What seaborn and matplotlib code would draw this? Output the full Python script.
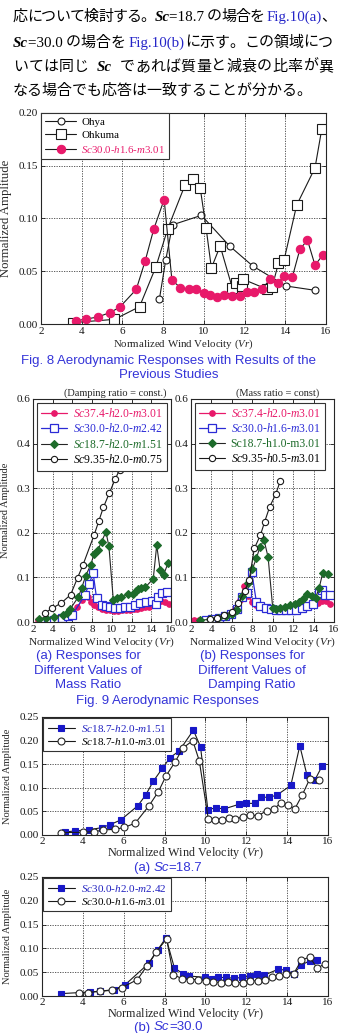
import matplotlib
matplotlib.use("Agg")
import matplotlib.pyplot as plt
import seaborn as sns

# ---------------- Fig. 8 ----------------
f8_ohya_x = [7.82, 8.13, 8.46, 9.88, 11.26, 12.40, 14.04, 15.44]
f8_ohya_y = [0.024, 0.061, 0.094, 0.103, 0.074, 0.055, 0.036, 0.032]
f8_ohkuma_x = [3.57, 5.61, 6.84, 7.64, 8.23, 9.07, 9.49, 9.82, 10.11, 10.37, 10.80,
               11.40, 11.60, 11.86, 11.94, 13.10, 13.36, 13.66, 13.94, 14.56, 15.46, 15.79]
f8_ohkuma_y = [0.0013, 0.0044, 0.0164, 0.054, 0.0905, 0.1315, 0.137, 0.129, 0.091, 0.053,
               0.074, 0.034, 0.0385, 0.036, 0.0423, 0.033, 0.0353, 0.0575, 0.0606, 0.1127,
               0.148, 0.1845]
f8_sc30_x = [3.73, 4.22, 4.78, 5.37, 5.86, 6.68, 7.12, 7.54, 8.05, 8.43, 8.85, 9.28, 9.59,
             10.00, 10.31, 10.67, 11.00, 11.40, 11.78, 12.11, 12.47, 12.84, 13.25, 13.63,
             13.96, 14.35, 14.72, 15.09, 15.46, 15.84]
f8_sc30_y = [0.003, 0.0047, 0.0066, 0.0107, 0.0158, 0.0328, 0.060, 0.090, 0.118, 0.0416,
             0.0344, 0.0328, 0.0331, 0.0297, 0.0274, 0.0259, 0.0274, 0.0265, 0.0268, 0.030,
             0.0306, 0.0328, 0.0423, 0.039, 0.0454, 0.0448, 0.071, 0.0795, 0.0558, 0.0653]

# ---------------- Fig. 9 (a) damping ratio const ----------------
f9a_sc37_x = [2.5, 3.0, 3.5, 4.0, 4.5, 5.0, 5.5, 6.0, 6.5, 7.0, 7.3, 7.6, 7.9, 8.2, 8.6, 9.0,
              9.4, 9.8, 10.2, 10.6, 11.0, 11.4, 11.8, 12.2, 12.6, 13.0, 13.4, 13.8, 14.2,
              14.6, 15.0, 15.4, 15.8]
f9a_sc37_y = [0.004, 0.004, 0.005, 0.006, 0.008, 0.011, 0.015, 0.020, 0.033, 0.050, 0.060,
              0.055, 0.045, 0.038, 0.033, 0.030, 0.028, 0.027, 0.025, 0.025, 0.026, 0.027,
              0.028, 0.029, 0.030, 0.031, 0.033, 0.034, 0.037, 0.045, 0.048, 0.045, 0.040]
f9a_sc30_x = [2.9, 3.5, 4.1, 4.9, 5.5, 6.0, 7.25, 7.7, 8.1, 8.45, 8.95, 9.4, 9.85, 10.3,
              10.8, 11.3, 11.8, 12.3, 12.9, 13.5, 14.05, 14.45, 14.7, 15.1, 15.6]
f9a_sc30_y = [0.001, 0.003, 0.005, 0.009, 0.013, 0.016, 0.060, 0.085, 0.110, 0.053, 0.038,
              0.035, 0.033, 0.031, 0.032, 0.033, 0.033, 0.037, 0.042, 0.045, 0.048, 0.040,
              0.056, 0.066, 0.067]
f9a_sc18_x = [2.6, 3.3, 4.1, 5.0, 5.4, 5.8, 6.6, 6.95, 7.35, 7.85, 8.2, 8.6, 8.95, 9.4, 9.7,
              10.15, 10.5, 10.95, 11.6, 12.1, 12.5, 12.7, 13.0, 13.4, 14.2, 14.55, 14.9,
              15.25, 15.7]
f9a_sc18_y = [0.006, 0.008, 0.011, 0.016, 0.020, 0.030, 0.056, 0.077, 0.104, 0.128, 0.153,
              0.162, 0.180, 0.202, 0.170, 0.049, 0.053, 0.055, 0.062, 0.063, 0.069, 0.074,
              0.076, 0.078, 0.097, 0.172, 0.116, 0.106, 0.132]
f9a_sc9_x = [3.26, 3.97, 4.89, 5.81, 6.52, 7.07, 8.2, 8.67, 9.14, 9.76, 10.33, 10.78]
f9a_sc9_y = [0.021, 0.031, 0.043, 0.061, 0.099, 0.128, 0.195, 0.226, 0.257, 0.290, 0.320, 0.341]

# ---------------- Fig. 9 (b) mass ratio const ----------------
f9b_sc37_x = [2.3, 2.8, 3.3, 3.8, 4.3, 4.8, 5.3, 5.8, 6.3, 6.8, 7.2, 7.6, 8.0, 8.4, 8.8,
              9.2, 9.6, 10.0, 10.4, 10.8, 11.2, 11.6, 12.0, 12.4, 12.8, 13.2, 13.6, 14.0,
              14.4, 14.8, 15.2, 15.6]
f9b_sc37_y = [0.004, 0.005, 0.006, 0.007, 0.009, 0.012, 0.015, 0.020, 0.030, 0.050, 0.080,
              0.058, 0.045, 0.038, 0.033, 0.030, 0.028, 0.027, 0.026, 0.026, 0.026, 0.027,
              0.028, 0.030, 0.032, 0.034, 0.036, 0.038, 0.042, 0.048, 0.047, 0.040]
f9b_sc30_x = [3.5, 4.1, 4.7, 5.3, 5.9, 6.5, 7.0, 7.5, 7.95, 8.4, 8.8, 9.3, 9.8, 10.3, 10.8,
              11.3, 11.8, 12.3, 12.9, 13.4, 13.9, 14.5, 14.8, 15.1, 15.6]
f9b_sc30_y = [0.005, 0.007, 0.010, 0.013, 0.018, 0.030, 0.055, 0.066, 0.112, 0.045, 0.035,
              0.032, 0.030, 0.027, 0.026, 0.026, 0.026, 0.028, 0.031, 0.035, 0.040, 0.064,
              0.072, 0.060, 0.060]
f9b_sc18_x = [2.9, 3.9, 4.6, 5.4, 6.0, 6.5, 7.0, 7.6, 8.0, 8.4, 8.75, 9.15, 9.55, 10.0,
              10.3, 10.7, 11.2, 11.7, 12.2, 12.6, 12.95, 13.4, 13.8, 14.2, 14.55, 14.9, 15.4]
f9b_sc18_y = [0.004, 0.006, 0.010, 0.014, 0.019, 0.028, 0.058, 0.088, 0.118, 0.143, 0.168,
              0.184, 0.145, 0.032, 0.029, 0.032, 0.034, 0.037, 0.040, 0.044, 0.052, 0.062,
              0.058, 0.054, 0.077, 0.110, 0.107]
f9b_sc9_x = [3.9, 4.5, 5.2, 6.0, 6.6, 7.3, 7.7, 8.2, 8.8, 9.2, 9.7, 10.3, 10.75]
f9b_sc9_y = [0.006, 0.010, 0.016, 0.023, 0.042, 0.070, 0.095, 0.165, 0.195, 0.224, 0.258,
             0.287, 0.317]
f9_yticks = [0.0, 0.1, 0.2, 0.3, 0.4, 0.5]
f9_yticklabels = ["0.0", "0.1", "0.2", "0.3", "0.4", "0.6"]

# ---------------- Fig. 10 ----------------
f10a_h2_x = [3.14, 3.6, 4.28, 4.93, 5.34, 5.86, 6.69, 7.08, 7.45, 7.89, 8.27, 8.71, 9.41,
             9.76, 10.12, 10.5, 10.9, 11.64, 12.01, 12.42, 12.74, 13.1, 13.48, 14.18, 14.62,
             14.97, 15.35, 15.71]
f10a_h2_y = [0.0064, 0.0086, 0.0107, 0.0157, 0.022, 0.032, 0.062, 0.085, 0.114, 0.141, 0.164,
             0.178, 0.222, 0.187, 0.053, 0.058, 0.055, 0.065, 0.067, 0.067, 0.080, 0.080,
             0.084, 0.105, 0.189, 0.127, 0.116, 0.146]
f10a_h1_x = [2.94, 3.99, 4.56, 5.0, 5.58, 6.02, 6.56, 7.24, 7.7, 8.08, 8.52, 8.89, 9.38, 9.7,
             10.14, 10.47, 10.8, 11.16, 11.47, 11.82, 12.2, 12.58, 12.99, 13.35, 13.72,
             14.05, 14.37, 14.73, 15.1, 15.54]
f10a_h1_y = [0.005, 0.0057, 0.007, 0.0107, 0.012, 0.016, 0.025, 0.062, 0.092, 0.126, 0.155,
             0.184, 0.200, 0.157, 0.034, 0.031, 0.032, 0.036, 0.033, 0.039, 0.042, 0.041,
             0.051, 0.056, 0.068, 0.064, 0.055, 0.084, 0.118, 0.116]
f10b_h2_x = [2.94, 4.36, 4.85, 5.5, 6.04, 7.26, 7.66, 8.07, 8.48, 8.89, 9.21, 10.0, 10.34,
             10.63, 11.0, 11.41, 11.77, 12.17, 12.52, 12.87, 13.57, 13.96, 14.32, 14.7,
             15.1, 15.48]
f10b_h2_y = [0.005, 0.0085, 0.010, 0.0134, 0.0225, 0.070, 0.0965, 0.1225, 0.059, 0.047,
             0.042, 0.039, 0.035, 0.039, 0.039, 0.037, 0.039, 0.0415, 0.0458, 0.0437,
             0.0563, 0.054, 0.047, 0.065, 0.074, 0.075]
f10b_h1_x = [3.79, 4.23, 4.82, 5.42, 5.91, 6.67, 7.13, 7.57, 8.1, 8.43, 8.84, 9.24, 9.62,
             10.03, 10.38, 10.74, 11.12, 11.47, 11.85, 12.2, 12.55, 12.9, 13.26, 13.6,
             13.96, 14.32, 14.7, 15.1, 15.48, 15.84]
f10b_h1_y = [0.006, 0.007, 0.0099, 0.012, 0.0176, 0.0345, 0.0627, 0.0915, 0.120, 0.045,
             0.0366, 0.0345, 0.0345, 0.0317, 0.030, 0.028, 0.030, 0.028, 0.028, 0.0317,
             0.0317, 0.0345, 0.039, 0.0415, 0.047, 0.047, 0.075, 0.082, 0.058, 0.068]

PINK = "#e8196a"
BLUE = "#2b2bd6"
GREEN = "#1d6b2a"
CAP = "#3434d8"

sns.set_style("ticks")
plt.rcParams['font.family'] = ['Liberation Serif', 'Noto Sans CJK JP']
plt.rcParams['mathtext.fontset'] = 'custom'
plt.rcParams['mathtext.rm'] = 'Liberation Serif'
plt.rcParams['mathtext.it'] = 'Liberation Serif:italic'
plt.rcParams['mathtext.bf'] = 'Liberation Serif:bold'

W, H = 338, 1033
fig = plt.figure(figsize=(W / 100, H / 100), dpi=100)
rend = fig.canvas.get_renderer()


def box(x0, y0, x1, y1):
    return [x0 / W, 1 - y1 / H, (x1 - x0) / W, (y1 - y0) / H]


def tokens(s):
    # keep ascii runs together, split every other char (for justification)
    out, buf = [], ""
    for ch in s:
        if ord(ch) < 128:
            buf += ch
        else:
            if buf:
                out.append(buf)
                buf = ""
            out.append(ch)
    if buf:
        out.append(buf)
    return out


def put_runs(x, y, parts, ha='left', size=11, family=None, color='black', right=None):
    # draw text made of several styled pieces, y = baseline in pixels from top
    pieces = []
    for s, kw in parts:
        for tk in (tokens(s) if right else [s]):
            pieces.append((tk, kw))
    texts = []
    total = 0
    for s, kw in pieces:
        opts = dict(fontsize=size, color=color, va='baseline')
        if family:
            opts['family'] = family
        opts.update(kw)
        t = fig.text(0, 1 - y / H, s, **opts)
        w = t.get_window_extent(rend).width
        texts.append((t, w))
        total += w
    gap = 0
    if right and len(texts) > 1:
        gap = (right - x - total) / (len(texts) - 1)
    cur = x - total / 2 if ha == 'center' else x
    for t, w in texts:
        t.set_x(cur / W)
        cur += w + gap


def style_ax(ax, xlim, ylim, yticks, ytl=None, tsize=8):
    ax.set_xlim(*xlim)
    ax.set_ylim(*ylim)
    ax.set_xticks(range(2, 17, 2))
    ax.set_yticks(yticks)
    if ytl is not None:
        ax.set_yticklabels(ytl)
    ax.grid(True, linestyle=(0, (1.5, 1.5)), color='0.25', linewidth=0.6)
    ax.tick_params(direction='in', length=3, width=0.6, labelsize=tsize, pad=2,
                   top=True, right=True, colors='0.1')
    for sp in ax.spines.values():
        sp.set_color('0.15')
        sp.set_linewidth(0.8)
    ax.set_axisbelow(True)


def series(ax, x, y, label, marker, ms, mfc, mec, lc='0.1', lw=0.8, mew=0.8):
    sns.lineplot(x=x, y=y, ax=ax, label=label, color=lc, linewidth=lw, marker=marker,
                 markersize=ms, markerfacecolor=mfc, markeredgecolor=mec,
                 markeredgewidth=mew, sort=False, estimator=None)


def legend(ax, size, colors, hl=3.0, pad=0.0, ls=0.3):
    lg = ax.legend(loc='upper left', frameon=True, fancybox=False, framealpha=1,
                   edgecolor='0.2', borderaxespad=pad, handlelength=hl, fontsize=size,
                   labelspacing=ls, borderpad=0.4, handletextpad=0.5)
    lg.get_frame().set_linewidth(0.8)
    for t, c in zip(lg.get_texts(), colors):
        t.set_color(c)


# ---------------- Japanese paragraph ----------------
JP = ['Liberation Serif', 'Noto Sans CJK JP']
JS = 10.8
bi = dict(weight='bold', style='italic', family='Liberation Serif')
blue = dict(color='#2525c8', family='Liberation Serif')
put_runs(13, 21, [("応について検討する。", {}), ("Sc", bi), ("=18.7 の場合を ", {}),
                  ("Fig.10(a)", blue), ("、", {})], size=JS, family=JP, right=336)
put_runs(13, 46.5, [("Sc", bi), ("=30.0 の場合を ", {}), ("Fig.10(b)", blue),
                    ("に示す。この領域につ", {})], size=JS, family=JP, right=333)
put_runs(13, 71, [("いては同じ  ", {}), ("Sc", bi), ("  であれば質量と減衰の比率が異", {})],
         size=JS, family=JP, right=333)
put_runs(13, 94.5, [("なる場合でも応答は一致することが分かる。", {})], size=JS, family=JP)

# ---------------- Fig. 8 ----------------
ax8 = fig.add_axes(box(41, 113, 326, 324))
series(ax8, f8_ohya_x, f8_ohya_y, "Ohya", 'o', 5, 'white', '0.1')
series(ax8, f8_ohkuma_x, f8_ohkuma_y, "Ohkuma", 's', 7, 'white', '0.1')
series(ax8, f8_sc30_x, f8_sc30_y, r"$Sc$30.0-$h$1.6-$m$3.01", 'o', 6, PINK, PINK)
style_ax(ax8, (2, 16), (0, 0.20), [0, 0.05, 0.10, 0.15, 0.20], tsize=8)
ax8.set_yticklabels(["0.00", "0.05", "0.10", "0.15", "0.20"])
ax8.set_xlabel(r"Normalized Wind Velocity ($Vr$)", fontsize=7.8, labelpad=1)
ax8.set_ylabel("Normalized Amplitude", fontsize=9.2)
ax8.yaxis.set_label_coords(-0.1, 0.5)
legend(ax8, 7.8, ['black', 'black', PINK], hl=2.8, ls=0.35)

fs_cap = 9.5
fig.text(168.5 / W, 1 - 361 / H, "Fig. 8 Aerodynamic Responses with Results of the",
         ha='center', va='center', fontsize=fs_cap, color=CAP, family='Liberation Sans')
fig.text(168.5 / W, 1 - 375 / H, "Previous Studies", ha='center', va='center',
         fontsize=fs_cap, color=CAP, family='Liberation Sans')

# ---------------- Fig. 9 ----------------
ax9a = fig.add_axes(box(33, 399, 171, 622))
ax9b = fig.add_axes(box(191, 399, 334, 622))
for ax, d, ttl, tx in [
    (ax9a, [(f9a_sc37_x, f9a_sc37_y, r"$Sc$37.4-$h$2.0-$m$3.01"),
            (f9a_sc30_x, f9a_sc30_y, r"$Sc$30.0-$h$2.0-$m$2.42"),
            (f9a_sc18_x, f9a_sc18_y, r"$Sc$18.7-$h$2.0-$m$1.51"),
            (f9a_sc9_x, f9a_sc9_y, r"$Sc$9.35-$h$2.0-$m$0.75")],
     "(Damping ratio = const.)", 115),
    (ax9b, [(f9b_sc37_x, f9b_sc37_y, r"$Sc$37.4-$h$2.0-$m$3.01"),
            (f9b_sc30_x, f9b_sc30_y, r"$Sc$30.0-$h$1.6-$m$3.01"),
            (f9b_sc18_x, f9b_sc18_y, "Sc18.7-h1.0-m3.01"),
            (f9b_sc9_x, f9b_sc9_y, r"$Sc$9.35-$h$0.5-$m$3.01")],
     "(Mass ratio = const)", 278)]:
    series(ax, d[0][0], d[0][1], d[0][2], 'o', 4, PINK, PINK, lc=PINK, lw=0.9)
    series(ax, d[1][0], d[1][1], d[1][2], 's', 5.5, 'white', BLUE, lc=BLUE, lw=0.9, mew=0.9)
    series(ax, d[2][0], d[2][1], d[2][2], 'D', 4, GREEN, GREEN, lc='0.15', lw=0.8)
    series(ax, d[3][0], d[3][1], d[3][2], 'o', 4.5, 'white', '0.1', lc='0.1', lw=0.8)
    style_ax(ax, (2, 16), (0, 0.5), f9_yticks, f9_yticklabels, tsize=8)
    ax.set_xlabel(r"Normalized Wind Velocity ($Vr$)", fontsize=8.2, labelpad=1)
    legend(ax, 8.4, [PINK, BLUE, GREEN, 'black'], hl=2.2, pad=0.3, ls=0.2)
    fig.text(tx / W, 1 - 393 / H, ttl, ha='center', va='center', fontsize=7.5)
ax9a.set_ylabel("Normalized Amplitude", fontsize=7.5)
ax9a.yaxis.set_label_coords(-0.167, 0.5)
ax9b.set_ylabel("")

for cx, lines in [(88, ["(a) Responses for", "Different Values of", "Mass Ratio"]),
                  (252, ["(b) Responses for", "Different Values of", "Damping Ratio"])]:
    for i, s in enumerate(lines):
        fig.text(cx / W, 1 - (656 + 14.5 * i) / H, s, ha='center', va='center',
                 fontsize=fs_cap, color=CAP, family='Liberation Sans')
fig.text(167 / W, 1 - 701 / H, "Fig. 9 Aerodynamic Responses", ha='center', va='center',
         fontsize=fs_cap, color=CAP, family='Liberation Sans')

# ---------------- Fig. 10 ----------------
ax10a = fig.add_axes(box(42, 717, 328, 835))
ax10b = fig.add_axes(box(42, 877, 328, 996))
for ax, d in [(ax10a, [(f10a_h2_x, f10a_h2_y, r"$Sc$18.7-$h$2.0-$m$1.51"),
                       (f10a_h1_x, f10a_h1_y, r"$Sc$18.7-$h$1.0-$m$3.01")]),
              (ax10b, [(f10b_h2_x, f10b_h2_y, r"$Sc$30.0-$h$2.0-$m$2.42"),
                       (f10b_h1_x, f10b_h1_y, r"$Sc$30.0-$h$1.6-$m$3.01")])]:
    series(ax, d[0][0], d[0][1], d[0][2], 's', 5, '#1818c8', '#1818c8', lc='0.1', lw=0.8)
    series(ax, d[1][0], d[1][1], d[1][2], 'o', 5, 'white', '0.15', lc='0.1', lw=0.8)
    style_ax(ax, (2, 16), (0, 0.25), [0, 0.05, 0.10, 0.15, 0.20, 0.25], tsize=8)
    ax.set_yticklabels(["0.00", "0.05", "0.10", "0.15", "0.20", "0.25"])
    ax.tick_params(axis='x', pad=1.5)
    ax.set_xlabel(r"Normalized Wind Velocity ($Vr$)", fontsize=8.7, labelpad=-0.5)
    ax.set_ylabel("Normalized Amplitude", fontsize=7.5)
    ax.yaxis.set_label_coords(-0.105, 0.5)
    legend(ax, 8, ['#2020c0', 'black'], hl=2.5, pad=0.1, ls=0.2)

sans = dict(family='Liberation Sans')
sans_it = dict(family='Liberation Sans', style='italic')
put_runs(168, 871, [("(a) ", sans), ("Sc", sans_it), ("=18.7", sans)], ha='center',
         size=fs_cap, color=CAP)
put_runs(168, 1030.5, [("(b) ", sans), ("Sc", sans_it), ("=30.0", sans)], ha='center',
         size=fs_cap, color=CAP)

fig.savefig("out.png", dpi=100)
